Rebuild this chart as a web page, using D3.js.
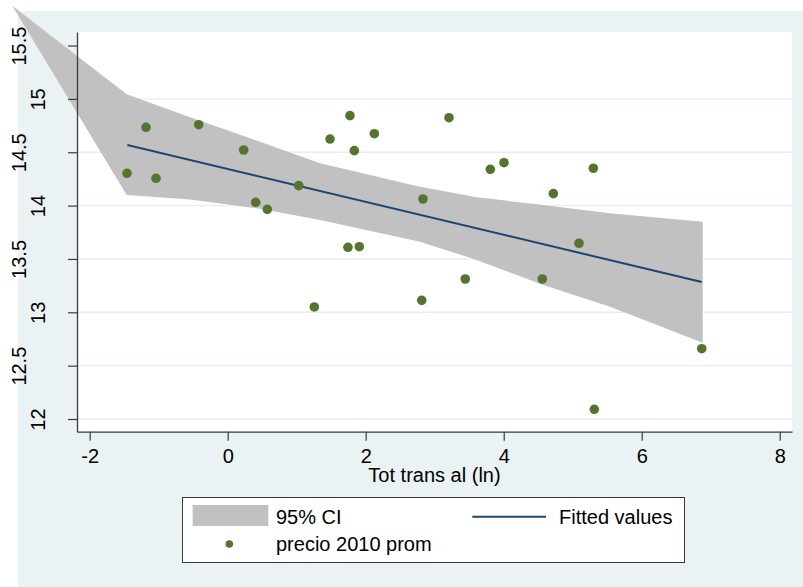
<!DOCTYPE html>
<html>
<head>
<meta charset="utf-8">
<script src="https://cdn.jsdelivr.net/npm/d3@7"></script>
<style>
  html, body { margin: 0; padding: 0; background: #ffffff; }
  svg { display: block; }
  text { font-family: "Liberation Sans", Arial, Helvetica, sans-serif; fill: #000; }
</style>
</head>
<body>
<svg id="chart" width="803" height="587"></svg>
<script>
// Observations: log of total transfers vs. average 2010 price
const xVals = [-1.459, -1.184, -1.039, -0.420, 0.232, 0.406, 0.574, 1.029, 1.255, 1.483,
               1.743, 1.772, 1.835, 1.907, 2.125, 2.812, 2.830, 3.207, 3.443, 3.806,
               4.004, 4.559, 4.719, 5.091, 5.299, 5.313, 6.870];
const yVals = [14.303, 14.733, 14.256, 14.758, 14.521, 14.031, 13.965, 14.187, 13.050, 14.624,
               13.609, 14.843, 14.515, 13.615, 14.674, 13.112, 14.062, 14.824, 13.312, 14.340,
               14.402, 13.312, 14.112, 13.647, 14.350, 12.091, 12.659];

// Linear fit and its 95% confidence band
const fitX = [-1.455, 6.870];
const fitY = [14.568, 13.284];
const bandX  = [-3.122, -1.464, -0.546, 0.468, 1.338, 2.787, 3.609, 4.574, 5.541, 6.884];
const bandHi = [15.874, 15.043, 14.828, 14.599, 14.396, 14.177, 14.078, 14.006, 13.928, 13.849];
const bandLo = [15.874, 14.099, 14.057, 13.970, 13.865, 13.662, 13.490, 13.256, 13.052, 12.715];

// Axes
const xTicks = [-2, 0, 2, 4, 6, 8];
const yTicks = [12, 12.5, 13, 13.5, 14, 14.5, 15, 15.5];
const yGrid  = [12, 12.5, 13, 13.5, 14, 14.5, 15];
const xTitle = "Tot trans al (ln)";
const legendLabels = ["95% CI", "Fitted values", "precio 2010 prom"];

const COLORS = { bg: "#eaf2f3", grid: "#e6eef1", band: "#c1c1c1", fit: "#1a476f", dot: "#55752f", axis: "#3a3a3a" };

const svg = d3.select("#chart");
const plot = { left: 77, right: 792, top: 32, bottom: 431.7 };

const x = d3.scaleLinear().domain([-2.184, 8.178]).range([plot.left, plot.right]);
const y = d3.scaleLinear().domain([11.881, 15.627]).range([plot.bottom, plot.top]);

// Graph region and plot region backgrounds
svg.append("rect").attr("x", 18).attr("y", 11).attr("width", 803 - 18).attr("height", 587 - 11)
  .attr("fill", COLORS.bg);
svg.append("rect").attr("x", plot.left).attr("y", plot.top)
  .attr("width", plot.right - plot.left).attr("height", plot.bottom - plot.top)
  .attr("fill", "#ffffff");

// Horizontal grid
svg.append("g").selectAll("line").data(yGrid).join("line")
  .attr("x1", plot.left).attr("x2", plot.right)
  .attr("y1", d => y(d)).attr("y2", d => y(d))
  .attr("stroke", COLORS.grid).attr("stroke-width", 1.4);

// Confidence band (not clipped to the plot region)
const bandData = bandX.map((v, i) => ({ x: v, lo: bandLo[i], hi: bandHi[i] }));
svg.append("path").datum(bandData)
  .attr("d", d3.area().x(d => x(d.x)).y0(d => y(d.lo)).y1(d => y(d.hi)))
  .attr("fill", COLORS.band);

// Fitted line
const fitData = fitX.map((v, i) => ({ x: v, y: fitY[i] }));
svg.append("path").datum(fitData)
  .attr("d", d3.line().x(d => x(d.x)).y(d => y(d.y)))
  .attr("fill", "none").attr("stroke", COLORS.fit).attr("stroke-width", 2);

// Scatter points
const pts = xVals.map((v, i) => ({ x: v, y: yVals[i] }));
svg.append("g").selectAll("circle").data(pts).join("circle")
  .attr("cx", d => x(d.x)).attr("cy", d => y(d.y)).attr("r", 4.8)
  .attr("fill", COLORS.dot);

// X axis
const gx = svg.append("g").attr("transform", `translate(0,${plot.bottom})`)
  .call(d3.axisBottom(x).tickValues(xTicks).tickFormat(d => d < 0 ? "-" + Math.abs(d) : d)
    .tickSize(9).tickSizeOuter(0));
gx.select(".domain").attr("stroke", COLORS.axis).attr("stroke-width", 1.3);
gx.selectAll(".tick line").attr("stroke", COLORS.axis).attr("stroke-width", 1.2);
gx.selectAll(".tick text").attr("y", 31.3).attr("dy", 0)
  .style("font-size", "20px").attr("fill", "#000");

// Y axis with staggered, vertical labels
const gy = svg.append("g").attr("transform", `translate(${plot.left},0)`)
  .call(d3.axisLeft(y).tickValues(yTicks).tickFormat(d3.format("~g")).tickSize(9).tickSizeOuter(0));
gy.select(".domain").attr("stroke", COLORS.axis).attr("stroke-width", 1.3);
gy.selectAll(".tick line").attr("stroke", COLORS.axis).attr("stroke-width", 1.2);
gy.selectAll(".tick text")
  .attr("x", 0).attr("dy", 0).attr("text-anchor", "middle")
  .attr("transform", d => `translate(${Number.isInteger(d) ? -32 : -51.5},0) rotate(-90)`)
  .style("font-size", "20px").attr("fill", "#000");

// X axis title
svg.append("text").attr("x", (plot.left + plot.right) / 2).attr("y", 482)
  .attr("text-anchor", "middle").style("font-size", "20px").text(xTitle);

// Legend
const lg = svg.append("g");
lg.append("rect").attr("x", 182.5).attr("y", 497.5).attr("width", 502).attr("height", 65)
  .attr("fill", "#ffffff").attr("stroke", COLORS.axis).attr("stroke-width", 1);
lg.append("rect").attr("x", 192.7).attr("y", 505).attr("width", 75.6).attr("height", 21)
  .attr("fill", COLORS.band);
lg.append("text").attr("x", 276).attr("y", 523.5).style("font-size", "20px").text(legendLabels[0]);
lg.append("line").attr("x1", 472.3).attr("x2", 546).attr("y1", 516.7).attr("y2", 516.7)
  .attr("stroke", COLORS.fit).attr("stroke-width", 2);
lg.append("text").attr("x", 559).attr("y", 523.5).style("font-size", "20px").text(legendLabels[1]);
lg.append("circle").attr("cx", 229.3).attr("cy", 544).attr("r", 3.8).attr("fill", COLORS.dot);
lg.append("text").attr("x", 276).attr("y", 551).style("font-size", "20px").text(legendLabels[2]);
</script>
</body>
</html>
